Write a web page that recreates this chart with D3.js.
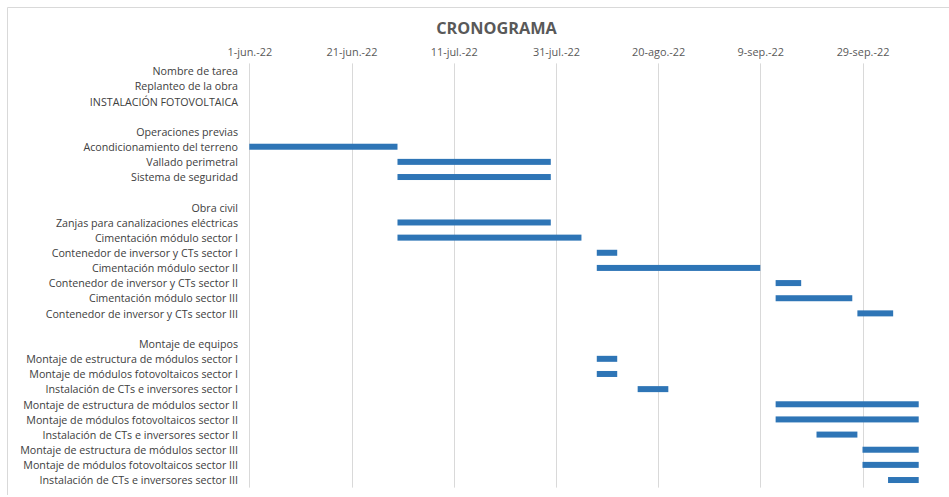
<!DOCTYPE html>
<html>
<head>
<meta charset="utf-8">
<script src="https://cdn.jsdelivr.net/npm/d3@7"></script>
<style>
  html, body { margin: 0; padding: 0; background: #fff; }
  svg { display: block; }
</style>
</head>
<body>
<svg id="chart" width="949" height="497"></svg>
<script>
// Task names, top to bottom ("" = spacer row)
const tareas = [
  "Nombre de tarea",
  "Replanteo de la obra",
  "INSTALACIÓN FOTOVOLTAICA",
  "",
  "Operaciones previas",
  "Acondicionamiento del terreno",
  "Vallado perimetral",
  "Sistema de seguridad",
  "",
  "Obra civil",
  "Zanjas para canalizaciones eléctricas",
  "Cimentación módulo sector I",
  "Contenedor de inversor y CTs sector I",
  "Cimentación módulo sector II",
  "Contenedor de inversor y CTs sector II",
  "Cimentación módulo sector III",
  "Contenedor de inversor y CTs sector III",
  "",
  "Montaje de equipos",
  "Montaje de estructura de módulos sector I",
  "Montaje de módulos fotovoltaicos sector I",
  "Instalación de CTs e inversores sector I",
  "Montaje de estructura de módulos sector II",
  "Montaje de módulos fotovoltaicos sector II",
  "Instalación de CTs e inversores sector II",
  "Montaje de estructura de módulos sector III",
  "Montaje de módulos fotovoltaicos sector III",
  "Instalación de CTs e inversores sector III"
];

// Start / end dates per task (null = no bar)
const inicio = [
  null, null, null, null, null,
  "2022-06-01", "2022-06-30", "2022-06-30", null, null,
  "2022-06-30", "2022-06-30", "2022-08-08", "2022-08-08",
  "2022-09-12", "2022-09-12", "2022-09-28", null, null,
  "2022-08-08", "2022-08-08", "2022-08-16",
  "2022-09-12", "2022-09-12", "2022-09-20",
  "2022-09-29", "2022-09-29", "2022-10-04"
];
const fin = [
  null, null, null, null, null,
  "2022-06-30", "2022-07-30", "2022-07-30", null, null,
  "2022-07-30", "2022-08-05", "2022-08-12", "2022-09-09",
  "2022-09-17", "2022-09-27", "2022-10-05", null, null,
  "2022-08-12", "2022-08-12", "2022-08-22",
  "2022-10-10", "2022-10-10", "2022-09-28",
  "2022-10-10", "2022-10-10", "2022-10-10"
];

// Axis ticks (every 20 days) and their labels
const tickFechas = ["2022-06-01", "2022-06-21", "2022-07-11", "2022-07-31",
                    "2022-08-20", "2022-09-09", "2022-09-29"];
const tickEtiquetas = ["1-jun.-22", "21-jun.-22", "11-jul.-22", "31-jul.-22",
                       "20-ago.-22", "9-sep.-22", "29-sep.-22"];

const axisMin = "2022-06-01", axisMax = "2022-10-14";

const parse = d3.utcParse("%Y-%m-%d");
const svg = d3.select("#chart");
const font = "'Open Sans', 'Noto Sans', sans-serif";

// Chart area frame
svg.append("path")
  .attr("d", "M7.5,495 V7.5 H949")
  .attr("fill", "none")
  .attr("stroke", "#d9d9d9")
  .attr("stroke-width", 1);

const x = d3.scaleUtc()
  .domain([parse(axisMin), parse(axisMax)])
  .range([249.3, 249.3 + 135 * 5.11]);

const y = d3.scaleBand()
  .domain(d3.range(tareas.length))
  .range([63.4, 487.6])
  .padding(0);

// Title
svg.append("text")
  .attr("x", 496.5)
  .attr("y", 33.5)
  .attr("text-anchor", "middle")
  .attr("font-family", font)
  .attr("font-weight", "bold")
  .attr("font-size", 16.3)
  .attr("fill", "#595959")
  .text("CRONOGRAMA");

// Vertical gridlines
const tickDates = tickFechas.map(parse);
svg.append("g")
  .selectAll("line")
  .data(tickDates)
  .join("line")
  .attr("x1", d => Math.round(x(d)) + 0.5)
  .attr("x2", d => Math.round(x(d)) + 0.5)
  .attr("y1", y.range()[0])
  .attr("y2", y.range()[1])
  .attr("stroke", "#d9d9d9")
  .attr("stroke-width", 1);

// Top date axis
const xAxis = d3.axisTop(x)
  .tickValues(tickDates)
  .tickSize(0)
  .tickPadding(0)
  .tickFormat((d, i) => tickEtiquetas[i]);

const gx = svg.append("g")
  .attr("transform", "translate(0,55.5)")
  .call(xAxis);
gx.select(".domain").remove();
gx.selectAll("text")
  .attr("font-family", font)
  .attr("font-size", 10.9)
  .attr("fill", "#595959")
  .attr("dy", 0);

// Task name axis
const yAxis = d3.axisLeft(y)
  .tickSize(0)
  .tickPadding(0)
  .tickFormat(i => tareas[i]);

const gy = svg.append("g")
  .attr("transform", "translate(238,0.8)")
  .call(yAxis);
gy.select(".domain").remove();
gy.selectAll("text")
  .attr("font-family", font)
  .attr("font-size", 10.7)
  .attr("fill", "#404040");

// Task bars
const tareasData = tareas.map((t, i) => ({ i, t, a: inicio[i], b: fin[i] }))
  .filter(d => d.a && d.b);

const barH = 6;
svg.append("g")
  .selectAll("rect")
  .data(tareasData)
  .join("rect")
  .attr("x", d => x(parse(d.a)))
  .attr("width", d => x(parse(d.b)) - x(parse(d.a)))
  .attr("y", d => y(d.i) + y.bandwidth() / 2 - barH / 2)
  .attr("height", barH)
  .attr("fill", "#2e75b6");
</script>
</body>
</html>
